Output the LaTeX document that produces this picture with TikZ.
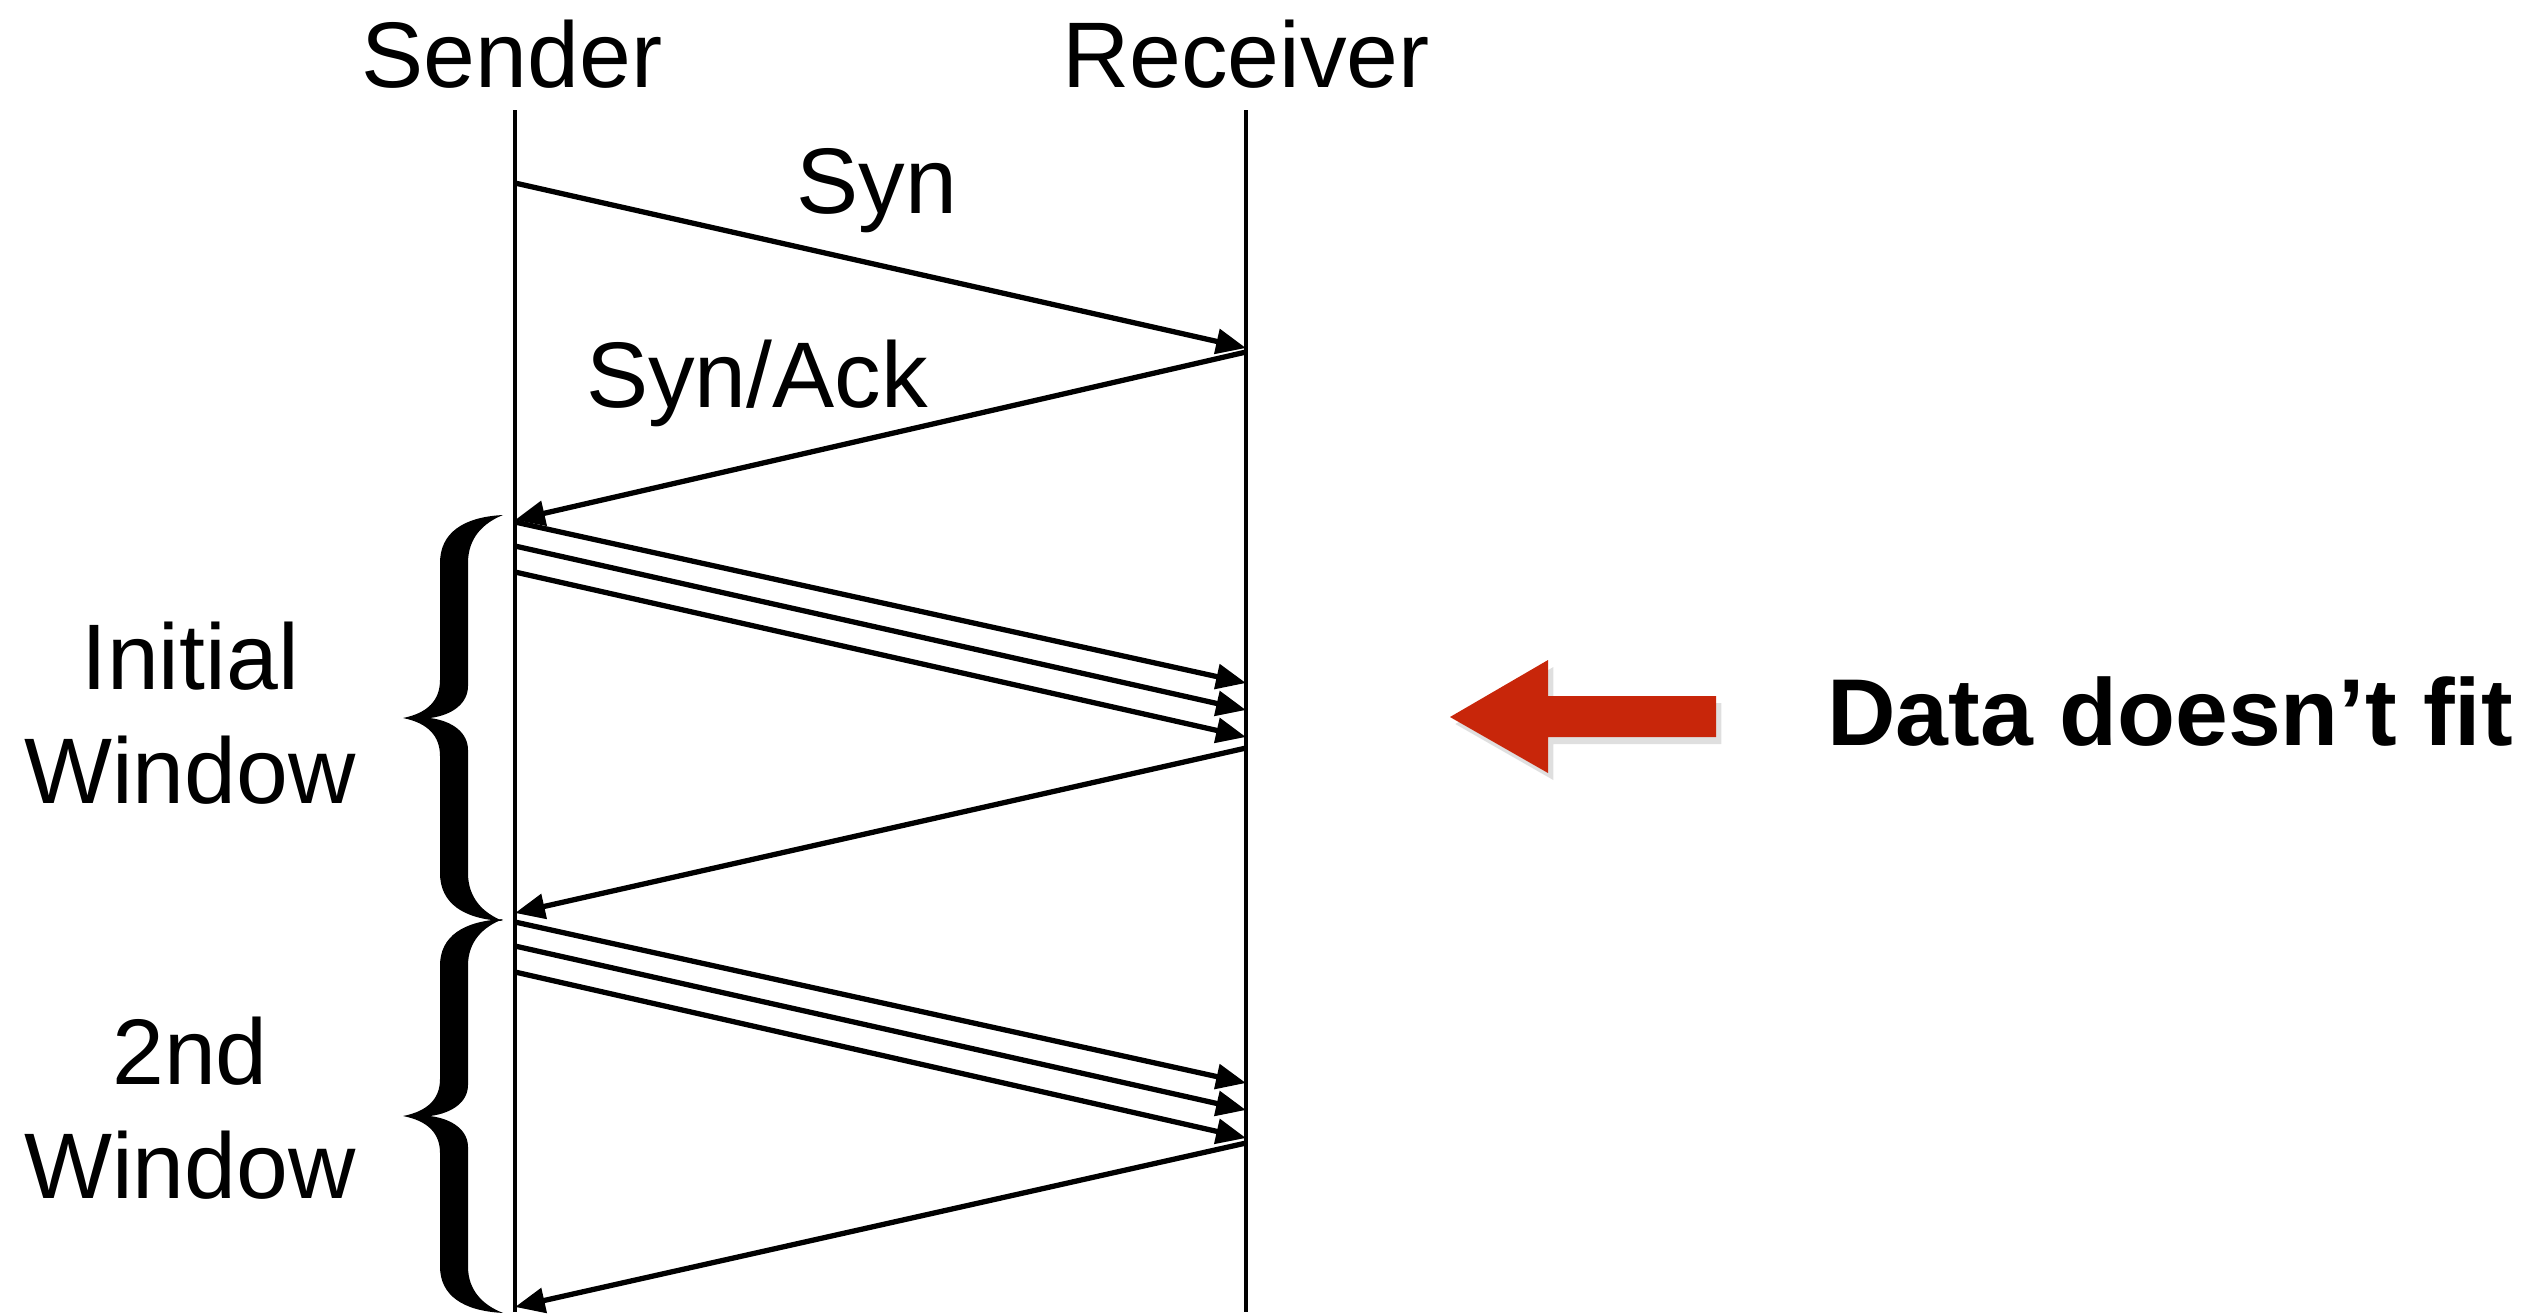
\documentclass[tikz,border=0pt]{standalone}
\usepackage{fontspec}
\setmainfont{Liberation Sans}
\usetikzlibrary{arrows.meta,shadows}
\definecolor{warnred}{RGB}{200,38,10}
\tikzset{
  lbl/.style={font=\fontsize{26.5}{32.4}\selectfont,inner sep=0pt},
  life/.style={line width=1.3pt},
  msg/.style={line width=1.5pt,-{Triangle[length=8.5pt,width=7pt]}},
  wbrace/.pic={
    \fill (0,0) .. controls (25,5) and (37,18) .. (37,38) -- (37,155)
      .. controls (37,185) and (60,201) .. (100,203)
      .. controls (80,195) and (65,180) .. (65,155) -- (65,32)
      .. controls (65,15) and (50,3) .. (27,0)
      .. controls (50,-3) and (65,-15) .. (65,-32) -- (65,-155)
      .. controls (65,-180) and (80,-195) .. (100,-203)
      .. controls (60,-201) and (37,-185) .. (37,-155) -- (37,-38)
      .. controls (37,-18) and (25,-5) .. (0,0) -- cycle;
  }
}
\begin{document}
\begin{tikzpicture}[x=0.01cm,y=-0.01cm]
\useasboundingbox (0,0) rectangle (2545,1314);
% hosts
\node[lbl,anchor=base] (sender) at (512,87) {Sender};
\node[lbl,anchor=base] (receiver) at (1246,87) {Receiver};
\coordinate (s0) at (515,110);
\coordinate (s1) at (515,1312);
\coordinate (r0) at (1246,110);
\coordinate (r1) at (1246,1312);
\draw[life] (s0) -- (s1);
\draw[life] (r0) -- (r1);
% handshake
\coordinate (syn1) at (515,183);
\coordinate (syn2) at (1246,348);
\coordinate (ack1) at (1246,352);
\coordinate (ack2) at (515,520);
\draw[msg] (syn1) -- (syn2);
\draw[msg] (ack1) -- (ack2);
\node[lbl,anchor=base] (synlbl) at (877,213) {Syn};
\node[lbl,anchor=base] (acklbl) at (757,407) {Syn/Ack};
% windows
\foreach \a/\b [count=\i] in {522/683,546/710,572/737,922/1083,946/1110,972/1138}{
  \coordinate (d\i s) at (515,\a);
  \coordinate (d\i r) at (1246,\b);
  \draw[msg] (d\i s) -- (d\i r);
}
\coordinate (w1r) at (1246,748);
\coordinate (w1s) at (515,913);
\coordinate (w2r) at (1246,1143);
\coordinate (w2s) at (515,1307);
\draw[msg] (w1r) -- (w1s);
\draw[msg] (w2r) -- (w2s);
\pic at (403,718) {wbrace};
\pic[yscale=0.97] at (403,1116) {wbrace};
\node[lbl,align=center,anchor=base] (initwin) at (190,803) {Initial\\Window};
\node[lbl,align=center,anchor=base] (nextwin) at (190,1198) {2nd\\Window};
% overflow note
\fill[warnred,drop shadow={shadow xshift=1.5pt,shadow yshift=-2pt,opacity=0.25}]
  (1450,717) -- (1548,660) -- (1548,696) -- (1716,696) -- (1716,737)
  -- (1548,737) -- (1548,773) -- cycle;
\node[lbl,font=\bfseries\fontsize{27}{32}\selectfont,anchor=base] (nofit) at (2170,745) {Data doesn’t fit};
\end{tikzpicture}
\end{document}
